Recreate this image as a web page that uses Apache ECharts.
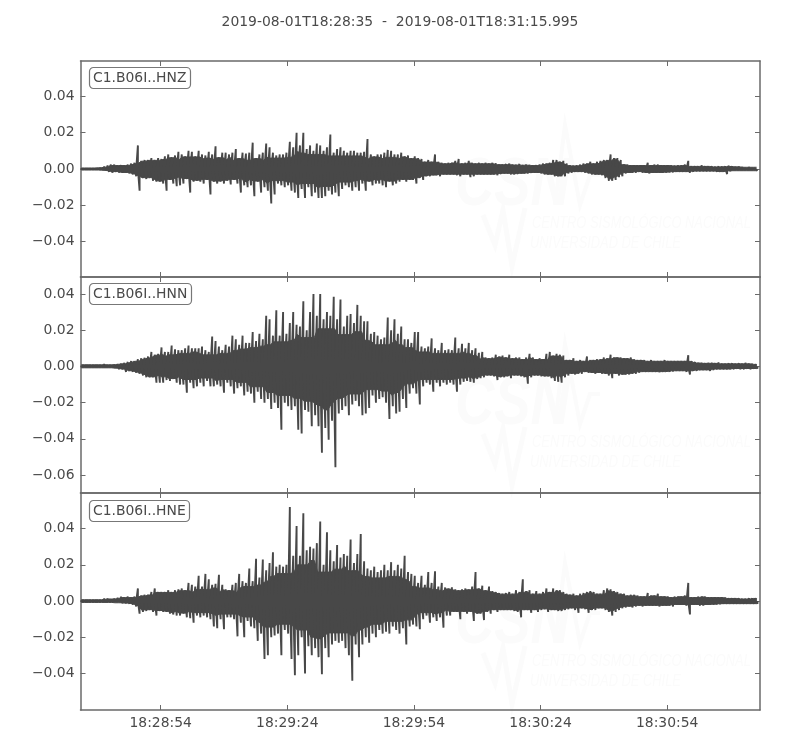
<!DOCTYPE html>
<html>
<head>
<meta charset="utf-8">
<style>html,body{margin:0;padding:0;background:#fff}#c{width:800px;height:750px}</style>
<script src="https://cdn.jsdelivr.net/npm/echarts@6/dist/echarts.min.js"></script>
</head>
<body>
<div id="c"></div>
<script>
const titleText = '2019-08-01T18:28:35  -  2019-08-01T18:31:15.995';
const channels = ['C1.B06I..HNZ', 'C1.B06I..HNN', 'C1.B06I..HNE'];
const sampleStep = 0.8;            // seconds between envelope readings
const unit = 0.001;                // envelope arrays are in thousandths
const duration = 160.995;
const tickSeconds = [19, 49, 79, 109, 139];
const tickLabels = ['18:28:54', '18:29:24', '18:29:54', '18:30:24', '18:30:54'];
const yRanges = [[-0.0595, 0.0595], [-0.0699, 0.0494], [-0.0602, 0.0597]];
const yTicks = [
  [-0.04, -0.02, 0, 0.02, 0.04],
  [-0.06, -0.04, -0.02, 0, 0.02, 0.04],
  [-0.04, -0.02, 0, 0.02, 0.04]
];

const hnzHigh = [.6,.6,.6,.6,.7,.8,1,1.5,2,2.5,
2.5,2,2.2,2,2.5,3,3.5,13,4.5,5,
5,6,5,6,5.5,7,8,6.5,7.5,9.5,
8,7,10,9.5,7,10,8,7.5,9.5,8,
12.5,6.5,9,9,8,9,11,6,9,8.5,
9,14.5,6,8,9,14,12,9,7.5,8,
8,9,15,12,20,13,20,11,13,10,
14,13,10,12,19,9,11,12,10,9,
10,10,9,9,9.5,16.5,8,7,8,8,
9,10.5,10,8,8,9,7,7.5,6,7,
6,5.5,4,5,4,8,4,3.5,3,3.5,
3.5,4.5,5.5,3,3.5,4.5,3.5,3,3.5,3,
3.5,3,3.5,3.2,2.5,2.5,2.8,3,2.5,2.3,
2.8,2.2,2.5,2.3,2,2.2,2.5,3,3,3.5,
5,5,4,4.5,3,2,1.8,2,2.5,3,
3,4,3,4,4.5,5,5,8,6,6,
5,2.5,2.5,2,2,2,2,2,3.5,2,
2.5,2.5,2,2,2,2,1.8,2,2,2.5,
4.5,1.5,1.5,1.5,2,1.5,1.5,1.5,1.2,1.5,
1.3,1.5,1.8,1.5,1.3,1.5,1.2,1,1.2,1,1];
const hnzLow = [-.6,-.6,-.6,-.6,-.6,-.7,-.8,-1,-1.5,-2,
-1.5,-2,-2,-2,-2.5,-3,-4,-12,-5,-5.5,
-5,-6.5,-7,-7,-8,-12,-6,-8,-9.5,-9,
-8,-5.5,-13,-7,-6.5,-7,-8,-6,-14,-7,
-8,-7,-8,-6.5,-8.5,-6,-8,-13,-9,-10,
-9,-15,-7,-13,-10,-12,-19,-14,-8,-9,
-10,-9,-12,-13,-16,-11,-16,-10,-15,-13,
-16,-16,-15,-12,-14,-13,-15,-11,-9,-10,
-12,-10,-12,-8,-12,-7,-9,-8,-8,-9,
-10,-7,-9,-8,-7,-6,-7,-6,-6,-8,
-5,-6,-4,-4,-3.5,-3.5,-4,-3,-3,-3,
-3,-3.5,-4,-3,-3,-4.5,-4,-3,-3,-3,
-3,-3,-3,-3.5,-2.8,-2.5,-2.5,-3,-3,-2.8,
-2.5,-2.5,-2.5,-2.2,-2,-2,-2.5,-3,-3,-3,
-4,-4,-4,-4,-2.5,-2,-1.5,-1.5,-1.5,-2,
-2.5,-3,-3,-3,-3.5,-5,-6.5,-6.5,-6,-4.5,
-4,-2.5,-2,-2,-2,-1.5,-2,-2,-2.5,-2,
-2,-2,-2,-2,-1.8,-1.8,-1.5,-1.5,-1.5,-1.5,
-2,-1.5,-1.2,-1.2,-1.2,-1.2,-1.2,-1.2,-1.5,-1.5,
-1.5,-2.8,-1.2,-1,-1,-1,-1,-1,-1,-1,-1];

const hnnHigh = [1,1,1,1,1,1,1,1.5,1,1,
1.2,1.5,1.5,2,2.5,3,3,4,4.5,4.8,
5.5,8,6.5,7,10.5,8,8,11.5,9.5,9,
9,10,11.5,10,10,10,11,9,8,16.5,
14,11,9,12,11,17,15,12,17,13,
13,19,14,18,15,28,26,17,31,17,
30,18,24,30,23,22,36,20,30,40,
28,40,26,30,28,38.5,26,37,22,28,
29,24,34,28,25,25,18,19,17,15,
16,27,20,26,18,22,15,15,13,19,
19,11,10,11,15.5,10,9,13,9,9.5,
9,16,10,12.5,10,13,9,10,7.5,8,
5,4.5,5,6.5,5.5,6,5,6.5,4.5,5,
5,4,5,7,5,4,4.5,4,7,8,
6,7,6.5,6,3.5,3.5,4.5,3,3.5,3,
5.5,3.5,3.5,4,4,5,4.5,6.5,5,5,
5,4.5,4.5,5,4,3.5,3.5,3.5,3,3.5,
3,3,3,3.5,3,3,3,3,3,3,
6.2,3,2.5,2,2,1.8,2,2,1.8,2.2,
1.5,1.5,1.8,1.8,1.5,1.8,1.5,2,1.5,1.5,1.2];
const hnnLow = [-.8,-.8,-.8,-.8,-.8,-.8,-1,-.8,-.8,-1,
-1,-1.5,-1.5,-3,-2.5,-3,-3.5,-4,-5,-6,
-6,-6,-9,-9,-9,-7.5,-8,-7,-9,-10,
-10,-14.5,-9,-12,-11,-9,-11,-8,-11,-11,
-10,-11,-14.5,-9,-11,-15,-12,-11,-16,-14,
-15,-20,-14,-18,-20,-18,-23.5,-20,-23,-35,
-20,-22,-24,-22,-35,-37,-24,-25,-33,-27,
-33,-47.7,-34,-40.5,-30,-55.7,-26,-24,-22,-27,
-21,-19,-22,-27,-26,-23,-16,-20,-18,-17,
-20,-29,-22,-26,-25,-18,-23,-15,-12,-15,
-21,-11,-9,-10,-14,-9,-11,-9,-10,-9,
-10,-14,-10,-8.5,-8,-8.5,-9,-7,-6.5,-6,
-5,-5,-5.5,-7.5,-6,-6,-5.5,-6.5,-5,-5,
-5.5,-6,-9.5,-6,-5,-5,-5.5,-5.5,-5.5,-6.5,
-8,-8.5,-9,-6,-5,-4,-4.5,-4,-4,-3,
-3.5,-3.5,-4,-3.5,-4,-4,-5,-6.5,-4,-5,
-4.5,-4.5,-4.5,-4,-4,-3.5,-3,-3,-3,-3,
-3,-3.2,-3,-3,-3,-2.8,-2.5,-2.5,-2.5,-3,
-4.5,-2.5,-2.5,-2,-2,-2,-2.5,-2,-1.5,-1.5,
-1.5,-1.5,-1.5,-1.5,-1.2,-1.5,-1.5,-1.2,-1.5,-1.2,-1.2];

const hneHigh = [.8,.8,.8,.8,.8,.8,1,1.5,1.5,1.2,
1.5,2,2.5,2,2.5,2,2.5,7,3,3.5,
3.5,5,7,5,5,5,6,5,6,6.5,
7,6,10,9,8,14,8,15,12,9,
9.5,14.5,9,6.5,6,9,10,15,11,10,
18,11,23.4,13,23,17,21,27,19,20,
19,20,52,25,41.5,25,48.5,28,30,29,
32,44,20,38,28,22,31,24,26,25,
34,21,26,37,22,18,17,19,16,17,
20,17,21.5,17,20,18,25,16,15,14,
10,14,9,16,10,16.5,8,10,7.5,7,
7.6,6.5,6,6.5,7,6.5,8,16,7,8.5,
6,8,5.5,5,4.5,4,4.5,5,4,6,
5,12,5.5,6,4,5.5,4,5,7,5,
7,6,6,5,4,3.5,4,3,4,4.5,
5,5.5,5,4,4,6,7,6.5,5.5,5,
4,4,3,3.5,3.5,3,2.5,2.5,4.5,3,
3,4,2.5,2.5,2.5,2,2.5,2.5,2.5,3,
10,2,2,2.5,2.5,2.5,2,2,2,2,
2,2,1.5,1.5,1.5,1.5,1.2,1.2,1.5,1.5,1.5];
const hneLow = [-.8,-.8,-.8,-.8,-.8,-.8,-.8,-1,-.8,-1,
-1,-1,-1.2,-1.2,-1.5,-2,-3,-7,-6,-5.5,
-5,-6,-8,-5.5,-6,-6,-7,-7.5,-8,-8,
-7,-9,-9.5,-12,-8,-9,-8,-9,-10,-14,
-15,-10,-15.6,-9,-9,-10,-19.5,-12,-20,-11,
-14,-15,-22,-18,-32,-30,-20,-19,-18,-30,
-16,-18,-32,-41,-30,-20,-40,-25,-30,-26,
-31,-40.4,-26,-31,-24,-22,-23,-22,-26,-30,
-44,-24,-31,-24,-20,-23,-18,-20,-16,-18,
-17,-18,-14,-16,-18,-15,-24,-14,-13,-14,
-15.6,-10,-8,-12,-9,-11,-9,-14.7,-8,-8,
-6,-6,-10,-6,-7,-6,-11,-7,-7,-10.5,
-6,-7,-5,-6,-5,-5,-5,-5,-5.5,-6,
-9,-5,-5,-6.5,-5,-6,-5,-4.5,-6,-5,
-5,-5.5,-5.5,-5,-4.5,-4,-5,-6.5,-4,-4.5,
-6.5,-5,-5,-4,-4,-5,-6,-8,-6,-5,
-4,-3.5,-3,-3.5,-3,-2.5,-3,-2.5,-2.5,-2.5,
-2.5,-3,-2.5,-2.5,-2.5,-3,-2,-2,-2,-2.5,
-7.4,-2,-2,-2.5,-2.5,-2,-2,-2,-1.8,-1.8,
-1.5,-1.5,-1.5,-1.5,-1.5,-1.5,-1.5,-1.5,-1.5,-1.5,-1.5];

const highs = [hnzHigh, hnnHigh, hneHigh];
const lows = [hnzLow, hnnLow, hneLow];

// Comb of vertical strokes: each reading is a stroke from zero to its value.
function trace(hi, lo) {
  const out = [];
  const n = Math.min(hi.length, lo.length);
  for (let i = 0; i < n; i++) {
    const a = i * sampleStep, b = a + sampleStep / 2;
    out.push([a, 0], [a, hi[i] * unit], [a, 0], [b, 0], [b, lo[i] * unit], [b, 0]);
  }
  return out;
}
// Solid core of the trace, from nearby readings: nearly full in the quiet
// tails, well below the peaks where the trace is loud and spiky.
function core(arr) {
  return arr.map((v, i) => {
    const near = Math.min(...arr.slice(Math.max(0, i - 1), i + 2).map(Math.abs));
    const wide = Math.min(...arr.slice(Math.max(0, i - 2), i + 3).map(Math.abs));
    const m = (near <= 7 ? near * 0.95 : wide * 0.8) * Math.sign(v);
    return [i * sampleStep + sampleStep / 4, m * unit];
  });
}

const INK = '#484848', EDGE = '#6a6a6a', TXT = '#4a4a4a', FONT = '"DejaVu Sans"', MARK = '#fbfbfb', FS = 13.9;
const tops = [61, 277, 493], heights = [216, 216, 217];
const grids = [], xAxes = [], yAxes = [], series = [], titles = [], wm = [];

titles.push({ text: titleText, left: 'center', top: 15, padding: 0,
  textStyle: { color: TXT, fontFamily: FONT, fontSize: FS, fontWeight: 'normal' } });

channels.forEach((name, k) => {
  grids.push({ left: 80.5, width: 679.5, top: tops[k], height: heights[k] });
  const line = { show: true, onZero: false, lineStyle: { color: EDGE, width: 1.5 } };
  const tick = { show: true, inside: true, length: 5, customValues: tickSeconds, lineStyle: { color: EDGE, width: 1 } };
  ['bottom', 'top'].forEach(pos => xAxes.push({
    type: 'value', gridIndex: k, position: pos, min: 0, max: duration,
    axisLine: line, axisTick: tick, splitLine: { show: false },
    axisLabel: (pos === 'bottom' && k === 2) ? {
      show: true, color: TXT, fontFamily: FONT, fontSize: FS, margin: 6,
      customValues: tickSeconds,
      formatter: v => tickLabels[tickSeconds.indexOf(v)]
    } : { show: false }
  }));
  const ytick = { show: true, inside: true, length: 5, customValues: yTicks[k], lineStyle: { color: EDGE, width: 1 } };
  ['left', 'right'].forEach(pos => yAxes.push({
    type: 'value', gridIndex: k, position: pos, min: yRanges[k][0], max: yRanges[k][1],
    axisLine: line, axisTick: ytick, splitLine: { show: false },
    axisLabel: pos === 'left' ? {
      show: true, color: TXT, fontFamily: FONT, fontSize: FS, margin: 6,
      customValues: yTicks[k],
      formatter: v => (v < 0 ? '\u2212' : '') + Math.abs(v).toFixed(2)
    } : { show: false }
  }));
  const base = { type: 'line', xAxisIndex: k * 2, yAxisIndex: k * 2, showSymbol: false, symbol: 'none',
    sampling: false, animation: false, silent: true, z: 5 };
  series.push(Object.assign({}, base, {
    data: trace(highs[k], lows[k]),
    lineStyle: { color: INK, width: 1.9, join: 'bevel' }
  }));
  [highs[k], lows[k]].forEach(arr => series.push(Object.assign({}, base, {
    data: core(arr),
    lineStyle: { color: INK, width: 1 },
    areaStyle: { color: INK, opacity: 1, origin: 0 }
  })));
  titles.push({ text: name, left: 89, top: tops[k] + (k === 2 ? 7 : 6), padding: [4, 4, 3, 4],
    borderColor: '#777777', borderWidth: 1.2, borderRadius: 4, backgroundColor: '#ffffff',
    textStyle: { color: TXT, fontFamily: FONT, fontSize: FS, fontWeight: 'normal', lineHeight: 15 } });

  const dy = k * 219;
  wm.push(
    { type: 'text', z: 0, silent: true, x: 455, y: 152 + dy, scaleX: 0.8,
      style: { text: 'CSN', fill: MARK, font: 'italic bold 68px "Liberation Sans"' } },
    { type: 'text', z: 0, silent: true, x: 532, y: 215 + dy, scaleX: 0.78,
      style: { text: 'CENTRO SISMOLÓGICO NACIONAL', fill: MARK, font: 'italic 16.5px "Liberation Sans"' } },
    { type: 'text', z: 0, silent: true, x: 530, y: 235 + dy, scaleX: 0.78,
      style: { text: 'UNIVERSIDAD DE CHILE', fill: MARK, font: 'italic 16.5px "Liberation Sans"' } },
    { type: 'polyline', z: 0, silent: true,
      shape: { points: [[483, 215 + dy], [495, 245 + dy], [503, 210 + dy], [512, 266 + dy], [525, 208 + dy]] },
      style: { stroke: MARK, lineWidth: 5, fill: null } },
    { type: 'polyline', z: 0, silent: true,
      shape: { points: [[555, 205 + dy], [565, 125 + dy], [580, 205 + dy], [590, 175 + dy], [600, 175 + dy]] },
      style: { stroke: MARK, lineWidth: 4, fill: null } }
  );
});

const chart = echarts.init(document.getElementById('c'), null, { renderer: 'canvas' });
chart.setOption({
  animation: false,
  backgroundColor: '#ffffff',
  title: titles,
  grid: grids,
  xAxis: xAxes,
  yAxis: yAxes,
  series: series,
  graphic: { elements: wm }
});
</script>
</body>
</html>
